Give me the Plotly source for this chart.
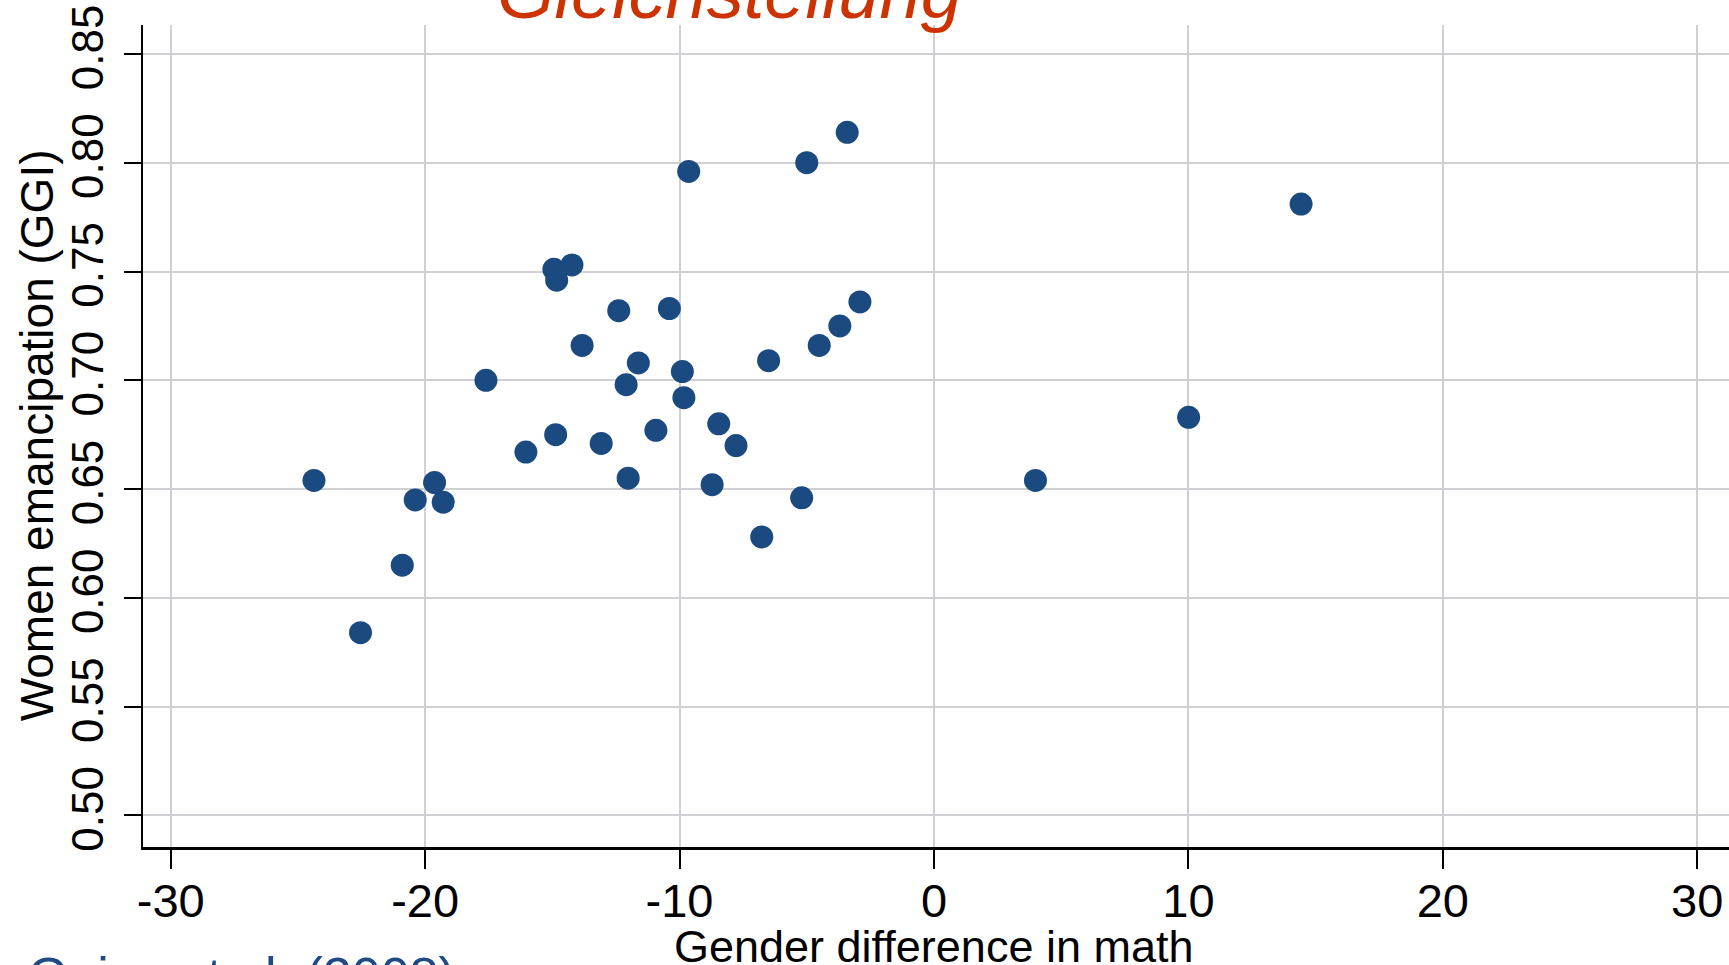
import plotly.graph_objects as go

# Gender difference in math (x) vs Women emancipation GGI (y)
gender_diff_math = [
    -24.37, -22.54, -20.90, -20.39, -19.63, -19.29, -17.61, -16.04,
    -14.94, -14.83, -14.23, -14.87, -13.83, -13.08, -12.39, -12.10,
    -12.02, -11.62, -10.93, -10.40, -9.89, -9.83, -9.64, -8.72,
    -8.46, -7.78, -6.77, -6.50, -5.20, -5.00, -4.51, -3.70,
    -3.41, -2.91, 3.99, 10.01, 14.43,
]
women_emancipation = [
    0.654, 0.584, 0.615, 0.645, 0.653, 0.644, 0.700, 0.667,
    0.751, 0.746, 0.753, 0.675, 0.716, 0.671, 0.732, 0.698,
    0.655, 0.708, 0.677, 0.733, 0.704, 0.692, 0.796, 0.652,
    0.680, 0.670, 0.628, 0.709, 0.646, 0.800, 0.716, 0.725,
    0.814, 0.736, 0.654, 0.683, 0.781,
]
x_ticks = [-30, -20, -10, 0, 10, 20, 30]
x_tick_labels = ["-30", "-20", "-10", "0", "10", "20", "30"]
y_ticks = [0.50, 0.55, 0.60, 0.65, 0.70, 0.75, 0.80, 0.85]
y_tick_labels = ["0.50", "0.55", "0.60", "0.65", "0.70", "0.75", "0.80", "0.85"]

FONT = "Liberation Sans, Arial, sans-serif"

fig = go.Figure()
fig.add_trace(go.Scatter(
    x=gender_diff_math, y=women_emancipation, mode="markers",
    marker=dict(size=23, color="#1b4a80", line=dict(width=0)),
    showlegend=False,
))

fig.update_layout(
    width=1729, height=965,
    margin=dict(l=143, r=0, t=25, b=118),
    paper_bgcolor="white", plot_bgcolor="white",
    font=dict(family=FONT, color="black"),
    xaxis=dict(
        range=[-31.09, 31.25], tickvals=x_ticks, ticktext=x_tick_labels,
        showgrid=True, gridcolor="#cfcfd4", gridwidth=2,
        zeroline=False, showline=True, linecolor="black", linewidth=3,
        ticks="outside", ticklen=19, tickwidth=2, tickcolor="black",
        ticklabelstandoff=-8,
        tickfont=dict(size=47, family=FONT, color="black"),
    ),
    yaxis=dict(
        range=[0.4855, 0.8633], tickvals=y_ticks, ticktext=y_tick_labels,
        showgrid=True, gridcolor="#cfcfd4", gridwidth=2,
        zeroline=False, showline=True, linecolor="black", linewidth=2,
        ticks="outside", ticklen=17, tickwidth=2, tickcolor="black",
        tickangle=-90, ticklabelstandoff=3,
        tickfont=dict(size=44, family=FONT, color="black"),
    ),
    annotations=[
        dict(text="Gleichstellung", xref="paper", yref="paper",
             x=0.370, y=0.9866, xanchor="center", yanchor="bottom",
             showarrow=False,
             font=dict(size=74, family=FONT, color="#cc3300", style="italic")),
        dict(text="Gender difference in math", xref="paper", yref="paper",
             x=0.4987, y=-0.087, xanchor="center", yanchor="top",
             showarrow=False, font=dict(size=45, family=FONT, color="black")),
        dict(text="Women emancipation (GGI)", xref="paper", yref="paper",
             x=-0.067, y=0.5005, xanchor="center", yanchor="middle",
             textangle=-90, showarrow=False,
             font=dict(size=46, family=FONT, color="black")),
        dict(text="Guiso et al. (2008)", xref="paper", yref="paper",
             x=-0.0735, y=-0.119, xanchor="left", yanchor="top",
             showarrow=False, font=dict(size=52, family=FONT, color="#1f4a85")),
    ],
)

fig.write_html("out.html")
